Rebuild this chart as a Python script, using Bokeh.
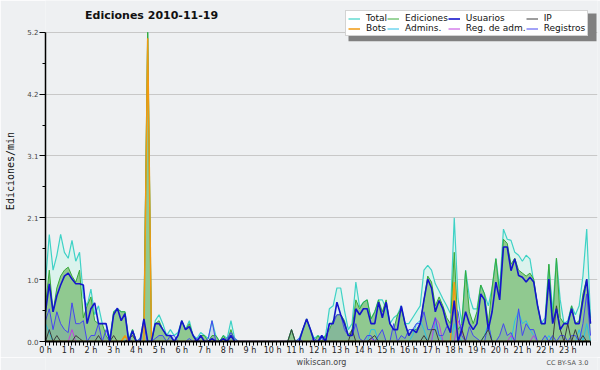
from bokeh.plotting import figure
from bokeh.layouts import column
from bokeh.models import (ColumnDataSource, Range1d, FixedTicker, Legend,
                          LegendItem, Label)
from bokeh.embed import file_html
from bokeh.resources import INLINE

# ---------------- data (edits per minute, 10-minute steps, 0h..24h) -------------
hours = list(range(24))
hour_labels = [f"{h} h" for h in hours]
y_ticks = [0.0, 1.04, 2.08, 3.12, 4.16, 5.2]
y_tick_labels = ["0.0", "1.0", "2.1", "3.1", "4.2", "5.2"]
y_minor = [0.52, 1.56, 2.6, 3.64, 4.68]

total = [
    1.0, 1.8, 1.2, 1.45, 1.8, 1.5,
    1.4, 1.7, 1.35, 1.5, 0.75, 0.6,
    0.88, 0.45, 0.6, 0.3, 0.3, 0.05,
    0.5, 0.55, 0.5, 0.5, 0.05, 0.2,
    0.0, 0.05, 0.38, 5.2, 0.0, 0.35,
    0.45, 0.3, 0.1, 0.2, 0.1, 0.15,
    0.35, 0.2, 0.35, 0.1, 0.05, 0.15,
    0.1, 0.05, 0.35, 0.1, 0.0, 0.1,
    0.05, 0.35, 0.05, 0.0, 0.0, 0.0,
    0.0, 0.0, 0.0, 0.0, 0.0, 0.0,
    0.0, 0.0, 0.0, 0.0, 0.0, 0.2,
    0.0, 0.05, 0.2, 0.38, 0.2, 0.05,
    0.1, 0.05, 0.1, 0.55, 0.6, 0.9,
    0.9, 0.52, 0.2, 0.3, 1.0, 0.58,
    0.66, 0.7, 0.38, 0.5, 0.7, 0.7,
    0.55, 0.3, 0.4, 0.45, 0.6, 0.3,
    0.3, 0.4, 0.5, 0.6, 1.2, 1.28,
    1.2, 0.97, 0.85, 0.72, 0.6, 0.47,
    2.08, 0.72, 0.3, 1.2, 0.75, 0.55,
    0.55, 0.95, 0.8, 0.6, 0.9, 1.4,
    0.9, 1.89, 1.72, 1.7, 1.5, 1.45,
    1.35, 1.45, 1.39, 1.0, 0.61, 0.3,
    0.4, 1.3, 0.5, 1.4, 0.7, 0.3,
    0.35, 0.6, 0.45, 0.6, 1.1, 1.89,
    0.4]

ediciones = [
    0.6, 1.2, 0.5, 0.9, 1.1, 1.2,
    1.25, 1.1, 1.0, 1.2, 0.4, 0.6,
    0.75, 0.35, 0.3, 0.3, 0.1, 0.0,
    0.5, 0.55, 0.5, 0.5, 0.0, 0.2,
    0.0, 0.0, 0.35, 5.2, 0.0, 0.3,
    0.35, 0.2, 0.1, 0.1, 0.0, 0.1,
    0.35, 0.2, 0.3, 0.1, 0.0, 0.1,
    0.1, 0.0, 0.1, 0.1, 0.0, 0.1,
    0.0, 0.2, 0.0, 0.0, 0.0, 0.0,
    0.0, 0.0, 0.0, 0.0, 0.0, 0.0,
    0.0, 0.0, 0.0, 0.0, 0.0, 0.2,
    0.0, 0.0, 0.2, 0.38, 0.2, 0.0,
    0.1, 0.0, 0.1, 0.2, 0.35, 0.45,
    0.45, 0.35, 0.1, 0.2, 0.7, 0.55,
    0.66, 0.7, 0.38, 0.5, 0.7, 0.5,
    0.7, 0.3, 0.2, 0.45, 0.55, 0.3,
    0.1, 0.2, 0.2, 0.3, 0.7, 1.1,
    1.0, 0.6, 0.75, 0.6, 0.4, 0.3,
    1.5, 0.2, 0.3, 1.19, 0.5, 0.3,
    0.5, 0.95, 0.8, 0.3, 0.9, 1.39,
    0.8, 1.72, 1.65, 1.3, 1.4, 1.2,
    1.15, 1.1, 1.15, 1.05, 0.6, 0.3,
    0.3, 1.3, 0.35, 1.4, 0.4, 0.3,
    0.3, 0.6, 0.3, 0.35, 0.8, 1.05,
    0.3]

usuarios = [
    0.5, 0.97, 0.5, 0.77, 0.95, 1.1,
    1.15, 1.05, 0.97, 0.97, 0.95, 0.3,
    0.55, 0.65, 0.3, 0.3, 0.3, 0.0,
    0.45, 0.56, 0.35, 0.47, 0.0, 0.18,
    0.0, 0.0, 0.38, 0.0, 0.0, 0.3,
    0.3, 0.2, 0.1, 0.1, 0.0, 0.1,
    0.35, 0.2, 0.25, 0.1, 0.0, 0.1,
    0.0, 0.0, 0.05, 0.0, 0.0, 0.05,
    0.0, 0.1, 0.0, 0.0, 0.0, 0.0,
    0.0, 0.0, 0.0, 0.0, 0.0, 0.0,
    0.0, 0.0, 0.0, 0.0, 0.0, 0.0,
    0.0, 0.0, 0.2, 0.38, 0.2, 0.0,
    0.0, 0.1, 0.0, 0.3, 0.3, 0.66,
    0.45, 0.3, 0.1, 0.1, 0.55, 0.45,
    0.55, 0.55, 0.3, 0.3, 0.66, 0.4,
    0.66, 0.3, 0.2, 0.2, 0.6, 0.3,
    0.1, 0.2, 0.15, 0.3, 0.7, 1.05,
    0.9, 0.5, 0.69, 0.55, 0.3, 0.15,
    0.69, 0.0, 0.2, 0.5, 0.3, 0.2,
    0.3, 0.8, 0.7, 0.2, 0.5, 1.0,
    0.7, 1.59, 1.59, 1.19, 1.39, 1.11,
    1.08, 1.0, 1.08, 1.0, 0.61, 0.3,
    0.3, 1.05, 0.3, 0.55, 0.2, 0.3,
    0.3, 0.55, 0.3, 0.3, 0.7, 1.05,
    0.3]

registros = [
    0.35, 0.55, 0.2, 0.5, 0.3, 0.2,
    0.15, 0.65, 0.3, 0.3, 0.35, 0.0,
    0.1, 0.1, 0.3, 0.0, 0.2, 0.0,
    0.0, 0.0, 0.0, 0.0, 0.05, 0.0,
    0.0, 0.05, 0.3, 0.0, 0.0, 0.05,
    0.1, 0.1, 0.0, 0.1, 0.1, 0.0,
    0.0, 0.0, 0.05, 0.0, 0.05, 0.0,
    0.0, 0.05, 0.35, 0.0, 0.0, 0.0,
    0.05, 0.15, 0.05, 0.0, 0.0, 0.0,
    0.0, 0.0, 0.0, 0.0, 0.0, 0.0,
    0.0, 0.0, 0.0, 0.0, 0.0, 0.0,
    0.0, 0.05, 0.0, 0.0, 0.0, 0.05,
    0.0, 0.05, 0.0, 0.3, 0.3, 0.45,
    0.45, 0.2, 0.1, 0.1, 0.3, 0.05,
    0.0, 0.1, 0.1, 0.0, 0.1, 0.2,
    0.0, 0.0, 0.3, 0.0, 0.1, 0.05,
    0.2, 0.2, 0.3, 0.3, 0.5, 0.2,
    0.2, 0.4, 0.1, 0.1, 0.25, 0.2,
    0.6, 0.5, 0.1, 0.0, 0.25, 0.1,
    0.05, 0.0, 0.0, 0.3, 0.0, 0.0,
    0.1, 0.3, 0.1, 0.15, 0.0, 0.55,
    0.1, 0.3, 0.2, 0.2, 0.0, 0.0,
    0.1, 0.0, 0.1, 0.0, 0.1, 0.1,
    0.0, 0.1, 0.1, 0.0, 0.3, 0.8,
    0.1]

admins = [
    0.3, 0.15, 0.0, 0.0, 0.0, 0.0,
    0.0, 0.0, 0.0, 0.0, 0.0, 0.0,
    0.0, 0.0, 0.0, 0.0, 0.0, 0.0,
    0.0, 0.0, 0.0, 0.0, 0.0, 0.0,
    0.0, 0.0, 0.0, 0.0, 0.0, 0.0,
    0.0, 0.0, 0.0, 0.0, 0.0, 0.0,
    0.0, 0.0, 0.0, 0.0, 0.0, 0.0,
    0.0, 0.0, 0.0, 0.0, 0.0, 0.0,
    0.0, 0.0, 0.0, 0.0, 0.0, 0.0,
    0.0, 0.0, 0.0, 0.0, 0.0, 0.0,
    0.0, 0.0, 0.0, 0.0, 0.0, 0.0,
    0.0, 0.0, 0.0, 0.0, 0.0, 0.0,
    0.0, 0.0, 0.0, 0.0, 0.0, 0.0,
    0.0, 0.0, 0.0, 0.0, 0.0, 0.0,
    0.0, 0.0, 0.2, 0.2, 0.0, 0.0,
    0.0, 0.0, 0.0, 0.0, 0.0, 0.0,
    0.0, 0.1, 0.3, 0.35, 0.2, 0.0,
    0.0, 0.3, 0.1, 0.0, 0.0, 0.0,
    0.3, 0.1, 0.0, 0.0, 0.0, 0.0,
    0.0, 0.0, 0.1, 0.3, 0.0, 0.0,
    0.0, 0.0, 0.0, 0.0, 0.35, 0.5,
    0.3, 0.35, 0.2, 0.1, 0.0, 0.0,
    0.0, 0.1, 0.0, 0.0, 0.0, 0.0,
    0.0, 0.0, 0.0, 0.2, 0.0, 0.3,
    0.0]

ip = [
    0.0, 0.2, 0.0, 0.1, 0.0, 0.0,
    0.0, 0.0, 0.1, 0.05, 0.0, 0.0,
    0.0, 0.0, 0.1, 0.0, 0.0, 0.0,
    0.1, 0.0, 0.0, 0.0, 0.05, 0.1,
    0.0, 0.0, 0.0, 0.0, 0.0, 0.0,
    0.0, 0.0, 0.0, 0.0, 0.0, 0.0,
    0.0, 0.0, 0.0, 0.0, 0.0, 0.0,
    0.0, 0.0, 0.0, 0.0, 0.0, 0.0,
    0.0, 0.0, 0.0, 0.0, 0.0, 0.0,
    0.0, 0.0, 0.0, 0.0, 0.0, 0.0,
    0.0, 0.0, 0.0, 0.0, 0.0, 0.2,
    0.0, 0.0, 0.0, 0.0, 0.0, 0.0,
    0.0, 0.0, 0.0, 0.0, 0.0, 0.0,
    0.0, 0.0, 0.0, 0.2, 0.0, 0.0,
    0.0, 0.0, 0.05, 0.1, 0.0, 0.0,
    0.0, 0.0, 0.0, 0.0, 0.0, 0.0,
    0.0, 0.0, 0.0, 0.0, 0.1, 0.0,
    0.2, 0.2, 0.0, 0.0, 0.0, 0.0,
    0.0, 0.0, 0.2, 0.0, 0.0, 0.0,
    0.0, 0.0, 0.1, 0.2, 0.0, 0.0,
    0.0, 0.0, 0.0, 0.0, 0.0, 0.0,
    0.0, 0.0, 0.0, 0.0, 0.0, 0.0,
    0.0, 0.0, 0.0, 0.6, 0.2, 0.0,
    0.3, 0.0, 0.2, 0.0, 0.1, 0.0,
    0.0]

bots = [0.0] * 21 + [0.1] + [0.0] * 5 + [5.1] + [0.0] * 80 + [1.0] + [0.0] * 36

reg_adm = [
    0.0, 0.0, 0.0, 0.0, 0.0, 0.0,
    0.0, 0.2, 0.0, 0.0, 0.0, 0.0,
    0.0, 0.0, 0.0, 0.0, 0.0, 0.0,
    0.0, 0.0, 0.0, 0.0, 0.0, 0.0,
    0.0, 0.0, 0.0, 0.0, 0.0, 0.0,
    0.0, 0.0, 0.0, 0.0, 0.0, 0.0,
    0.0, 0.0, 0.0, 0.0, 0.0, 0.0,
    0.0, 0.0, 0.0, 0.0, 0.0, 0.0,
    0.0, 0.0, 0.0, 0.0, 0.0, 0.0,
    0.0, 0.0, 0.0, 0.0, 0.0, 0.0,
    0.0, 0.0, 0.0, 0.0, 0.0, 0.0,
    0.0, 0.0, 0.0, 0.0, 0.0, 0.0,
    0.0, 0.0, 0.0, 0.0, 0.0, 0.0,
    0.0, 0.0, 0.0, 0.0, 0.0, 0.0,
    0.0, 0.0, 0.05, 0.0, 0.0, 0.0,
    0.0, 0.0, 0.0, 0.0, 0.0, 0.0,
    0.0, 0.0, 0.0, 0.0, 0.0, 0.0,
    0.0, 0.4, 0.3, 0.0, 0.0, 0.0,
    0.0, 0.35, 0.2, 0.0, 0.0, 0.0,
    0.0, 0.0, 0.0, 0.0, 0.0, 0.0,
    0.0, 0.0, 0.0, 0.1, 0.0, 0.0,
    0.0, 0.0, 0.0, 0.1, 0.0, 0.0,
    0.0, 0.0, 0.0, 0.0, 0.0, 0.0,
    0.0, 0.0, 0.0, 0.0, 0.0, 0.0,
    0.0]

times = [i / 6 for i in range(len(total))]

src = ColumnDataSource(dict(t=times, total=total, ediciones=ediciones, usuarios=usuarios,
                            registros=registros, admins=admins, ip=ip, bots=bots,
                            reg_adm=reg_adm))

BG = "#eef0f2"
FONT = "DejaVu Sans"

# layout geometry (pixels)
FRAME_H = 343          # frame spans y = 0 .. 343
AXIS_H = 311           # pixel height of 0 .. 5.2
Y_TOP = 5.2 * FRAME_H / AXIS_H
PLOT_W = 545           # pixel width of 0 h .. 24 h
FRAME_W = 552          # frame extends a little to the right (room for the legend)
X_END = 24 * FRAME_W / PLOT_W

p = figure(width=600, height=357, title=None,
           x_range=Range1d(0, X_END), y_range=Range1d(0, Y_TOP),
           output_backend="svg", toolbar_location=None,
           min_border_left=45, min_border_right=600 - 45 - FRAME_W,
           min_border_top=0, min_border_bottom=14)
p.background_fill_color = BG
p.border_fill_color = BG
p.outline_line_color = None

# areas
p.varea(x="t", y1=0, y2="total", source=src, fill_color="#dbf3ed")
p.varea(x="t", y1=0, y2="ediciones", source=src, fill_color="#90c990")
p.varea(x="t", y1=0, y2="registros", source=src, fill_color="#4a5ad0", fill_alpha=0.15)

# lines
r_total = p.line("t", "total", source=src, line_color="#3ed2c6", line_width=1.2)
r_edic = p.line("t", "ediciones", source=src, line_color="#38aa38", line_width=1.0)
r_admin = p.line("t", "admins", source=src, line_color="#28c0e6", line_width=1.0)
r_regadm = p.line("t", "reg_adm", source=src, line_color="#c040e0", line_width=1.0)
r_reg = p.line("t", "registros", source=src, line_color="#4646f0", line_width=1.0)
r_ip = p.line("t", "ip", source=src, line_color="#3c3c3c", line_width=1.0)
r_bots = p.line("t", "bots", source=src, line_color="#f09a10", line_width=1.5)
r_usr = p.line("t", "usuarios", source=src, line_color="#1414cc", line_width=1.6)

# axes
xa = p.xaxis[0]
xa.bounds = (0, 24)
xa.ticker = FixedTicker(ticks=hours, minor_ticks=times)
xa.major_label_overrides = {h: lab for h, lab in zip(hours, hour_labels)}
xa.axis_line_width = 2
xa.axis_line_color = "black"
xa.major_tick_out = 4
xa.minor_tick_out = 4
xa.major_tick_in = 0
xa.minor_tick_in = 0
xa.major_tick_line_color = "black"
xa.minor_tick_line_color = "black"
xa.major_label_standoff = 0
xa.major_label_text_font = FONT
xa.major_label_text_font_size = "8px"
xa.major_label_text_color = "#222222"

ya = p.yaxis[0]
ya.bounds = (0, 5.2)
ya.ticker = FixedTicker(ticks=y_ticks, minor_ticks=y_minor)
ya.major_label_overrides = {t: lab for t, lab in zip(y_ticks, y_tick_labels)}
ya.axis_line_width = 1.5
ya.axis_line_color = "black"
ya.major_tick_out = 6
ya.minor_tick_out = 3
ya.major_tick_in = 0
ya.minor_tick_in = 0
ya.major_label_standoff = 1
ya.major_label_text_font = FONT
ya.major_label_text_font_size = "7px"
ya.major_label_text_color = "#444444"
ya.axis_label = "Ediciones/min"
ya.axis_label_text_font = "DejaVu Sans Mono"
ya.axis_label_text_font_size = "10px"
ya.axis_label_text_font_style = "normal"
ya.axis_label_text_color = "#111111"
ya.axis_label_standoff = 8

p.xgrid.visible = False
p.ygrid.grid_line_color = "#c8c8c8"
p.ygrid.grid_line_width = 1

# title (inside the frame's upper margin, positioned relative to the frame)
p.add_layout(Label(x=108, y=FRAME_H - 17, x_units="screen", y_units="screen",
                   text="Ediciones  2010-11-19", text_align="center", text_baseline="middle",
                   text_font=FONT, text_font_style="bold", text_font_size="11px",
                   text_color="#111111"))

# legend drop shadow: a grey block offset 3 px from the legend box
LEG_X, LEG_Y, LEG_W, LEG_H = 300, 305, 248, 28   # frame pixels, bottom-left origin
SH = 3
def px_to_x(px):
    return px * 24 / PLOT_W
def px_to_y(py):
    return py * 5.2 / AXIS_H

p.quad(left=[px_to_x(LEG_X + SH)], right=[px_to_x(LEG_X + SH + LEG_W)],
       bottom=[px_to_y(LEG_Y - SH)], top=[px_to_y(LEG_Y - SH + LEG_H)],
       fill_color="#808080", line_color=None)

items = [
    LegendItem(label="Total", renderers=[r_total]),
    LegendItem(label="Ediciones", renderers=[r_edic]),
    LegendItem(label="Usuarios", renderers=[r_usr]),
    LegendItem(label="IP", renderers=[r_ip]),
    LegendItem(label="Bots", renderers=[r_bots]),
    LegendItem(label="Admins.", renderers=[r_admin]),
    LegendItem(label="Reg. de adm.", renderers=[r_regadm]),
    LegendItem(label="Registros", renderers=[r_reg]),
]
legend = Legend(items=items, location=(LEG_X, LEG_Y), orientation="horizontal", ncols=4,
                label_text_font=FONT, label_text_font_size="9px", label_text_color="#111111",
                label_height=9, glyph_height=9, glyph_width=12, label_standoff=6,
                spacing=0, padding=2, margin=0,
                background_fill_color="white", background_fill_alpha=1.0,
                border_line_color="#a8a8a8", border_line_width=1)
p.add_layout(legend)

# footer strip with credits
foot = figure(width=600, height=13, title=None,
              x_range=Range1d(0, 600), y_range=Range1d(0, 13),
              output_backend="svg", toolbar_location=None,
              x_axis_type=None, y_axis_type=None,
              min_border_left=0, min_border_right=0, min_border_top=0, min_border_bottom=0)
foot.background_fill_color = BG
foot.border_fill_color = BG
foot.outline_line_color = None
foot.xgrid.visible = False
foot.ygrid.visible = False
foot.add_layout(Label(x=300, y=8, text="wikiscan.org", text_align="center",
                      text_baseline="middle", text_font=FONT, text_font_size="8px",
                      text_color="#444444"))
foot.add_layout(Label(x=590, y=8, text="CC BY-SA 3.0", text_align="right",
                      text_baseline="middle", text_font=FONT, text_font_size="6.5px",
                      text_color="#555555"))

layout = column(p, foot, spacing=0)
open("out.html", "w").write(file_html(layout, INLINE))
